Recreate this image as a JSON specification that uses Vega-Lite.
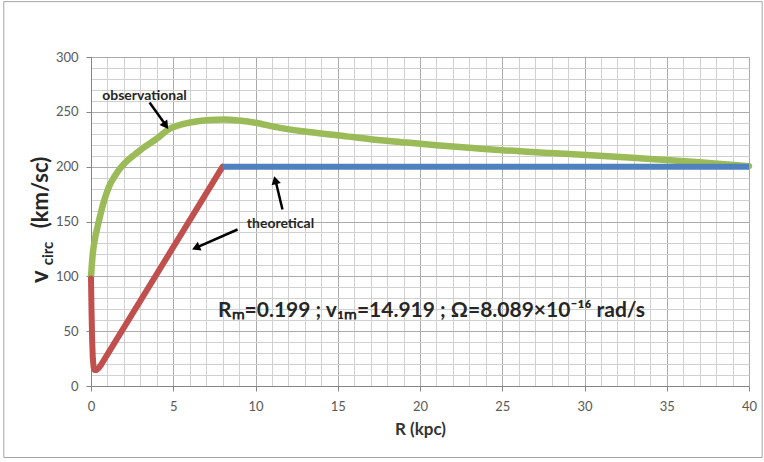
{
  "$schema": "https://vega.github.io/schema/vega-lite/v6.json",
  "width": 658,
  "height": 329,
  "autosize": "none",
  "padding": {"left": 91, "top": 57, "right": 15, "bottom": 76},
  "background": "white",
  "config": {
    "view": {"stroke": null},
    "font": "Lato"
  },
  "encoding": {
    "x": {
      "field": "R", "type": "quantitative",
      "scale": {"domain": [0, 40], "nice": false, "zero": false},
      "axis": {
        "values": [0,1,2,3,4,5,6,7,8,9,10,11,12,13,14,15,16,17,18,19,20,21,22,23,24,25,26,27,28,29,30,31,32,33,34,35,36,37,38,39,40],
        "labelExpr": "datum.value % 5 === 0 ? datum.label : ''",
        "labelOverlap": false,
        "labelBound": false,
        "labelFlush": false,
        "title": "R (kpc)",
        "titleFont": "Lato", "titleFontSize": 17, "titleFontWeight": "bold", "titleColor": "#333333",
        "titlePadding": 8,
        "labelFont": "Lato", "labelFontSize": 13, "labelColor": "#595959", "labelPadding": 9,
        "domainColor": "#868686",
        "tickColor": "#868686", "tickSize": 5,
        "tickOpacity": {"condition": {"test": "datum.value % 5 === 0", "value": 1}, "value": 0},
        "grid": true,
        "gridColor": {"condition": {"test": "datum.value % 5 === 0", "value": "#ababab"}, "value": "#d0d0d0"},
        "gridOpacity": 1
      }
    },
    "y": {
      "field": "v", "type": "quantitative",
      "scale": {"domain": [0, 300], "nice": false},
      "axis": {
        "values": [0,10,20,30,40,50,60,70,80,90,100,110,120,130,140,150,160,170,180,190,200,210,220,230,240,250,260,270,280,290,300],
        "labelExpr": "datum.value % 50 === 0 ? datum.label : ''",
        "labelOverlap": false,
        "labelBound": false,
        "labelFlush": false,
        "title": null,
        "labelFont": "Lato", "labelFontSize": 13, "labelColor": "#595959", "labelPadding": 8,
        "domainColor": "#868686",
        "tickColor": "#868686", "tickSize": 5,
        "tickOpacity": {"condition": {"test": "datum.value % 50 === 0", "value": 1}, "value": 0},
        "grid": true,
        "gridColor": {"condition": {"test": "datum.value % 50 === 0", "value": "#ababab"}, "value": "#d0d0d0"},
        "gridOpacity": 1
      }
    }
  },
  "layer": [
    {
      "data": {"values": [{"R": 0, "v": 0}]},
      "mark": {"type": "rect", "fill": "transparent", "stroke": "#a6a6a6", "strokeWidth": 1},
      "encoding": {
        "x": {"datum": -5.3},
        "x2": {"datum": 40.8},
        "y": {"datum": 350.5},
        "y2": {"datum": -65.2}
      }
    },
    {
      "data": {"values": [
        {"R": 0, "v": 100}, {"R": 0.11, "v": 121}, {"R": 0.25, "v": 135}, {"R": 0.41, "v": 146},
        {"R": 0.6, "v": 158}, {"R": 0.82, "v": 170}, {"R": 1.1, "v": 182}, {"R": 1.43, "v": 191},
        {"R": 1.8, "v": 199}, {"R": 2.24, "v": 206}, {"R": 2.7, "v": 211.5}, {"R": 3.26, "v": 218},
        {"R": 4, "v": 225.5}, {"R": 4.66, "v": 233.5}, {"R": 5.4, "v": 238}, {"R": 6.3, "v": 241},
        {"R": 7.2, "v": 242.5}, {"R": 8.1, "v": 243}, {"R": 9, "v": 242}, {"R": 10, "v": 240},
        {"R": 11.1, "v": 236.5}, {"R": 13, "v": 232}, {"R": 15.1, "v": 228.5}, {"R": 17, "v": 225},
        {"R": 19.2, "v": 222}, {"R": 21, "v": 219.5}, {"R": 23.2, "v": 217}, {"R": 25, "v": 215},
        {"R": 27.9, "v": 212.5}, {"R": 30.9, "v": 210}, {"R": 34, "v": 207}, {"R": 37, "v": 204},
        {"R": 40, "v": 200.5}
      ]},
      "mark": {"type": "line", "color": "#9bbb59", "strokeWidth": 6.5, "interpolate": "monotone", "strokeCap": "round"}
    },
    {
      "data": {"values": [
        {"R": 0, "v": 98}, {"R": 0.03, "v": 70}, {"R": 0.07, "v": 42}, {"R": 0.11, "v": 25},
        {"R": 0.16, "v": 17}, {"R": 0.22, "v": 14.5}, {"R": 0.32, "v": 14.5}, {"R": 0.45, "v": 16},
        {"R": 0.6, "v": 19}, {"R": 8, "v": 200}
      ]},
      "mark": {"type": "line", "color": "#c0504d", "strokeWidth": 6, "strokeCap": "round", "strokeJoin": "round"}
    },
    {
      "data": {"values": [{"R": 8, "v": 200}, {"R": 40, "v": 200}]},
      "mark": {"type": "line", "color": "#4f81bd", "strokeWidth": 6}
    },
    {
      "data": {"values": [
        {"R": 3.56, "v": 258.5, "R2": 4.55, "v2": 237.8},
        {"R": 11.64, "v": 160.9, "R2": 11.22, "v2": 187.2},
        {"R": 8.91, "v": 142.7, "R2": 6.4, "v2": 126.2}
      ]},
      "mark": {"type": "rule", "color": "#000000", "strokeWidth": 2.5},
      "encoding": {
        "x2": {"field": "R2"},
        "y2": {"field": "v2"}
      }
    },
    {
      "data": {"values": [
        {"R": 4.5, "v": 238.5, "ang": 144},
        {"R": 11.22, "v": 186.5, "ang": 346},
        {"R": 6.45, "v": 126.5, "ang": 246.5}
      ]},
      "mark": {"type": "point", "shape": "triangle", "filled": true, "color": "#000000", "size": 90, "opacity": 1},
      "encoding": {
        "angle": {"field": "ang", "type": "quantitative", "scale": null}
      }
    },
    {
      "data": {"values": [
        {"R": 3.25, "v": 264.4, "t": "observational"},
        {"R": 11.52, "v": 147.3, "t": "theoretical"}
      ]},
      "mark": {"type": "text", "font": "Lato", "fontSize": 14, "fontWeight": "bold", "color": "#262626", "align": "center", "baseline": "middle"},
      "encoding": {
        "text": {"field": "t"}
      }
    },
    {
      "data": {"values": [
        {"R": 20.7, "v": 68.2, "t": "Rₘ=0.199 ;  v₁ₘ=14.919 ; Ω=8.089×10⁻¹⁶ rad/s"}
      ]},
      "mark": {"type": "text", "font": "Lato", "fontSize": 21, "fontWeight": "bold", "color": "#262626", "align": "center", "baseline": "middle"},
      "encoding": {
        "text": {"field": "t"}
      }
    },
    {
      "data": {"values": [
        {"R": -3.04, "v": 99.8, "t": "v", "s": 24},
        {"R": -2.62, "v": 120.8, "t": "circ", "s": 15},
        {"R": -3.04, "v": 176.4, "t": "(km/sc)", "s": 22}
      ]},
      "mark": {"type": "text", "font": "Lato", "fontWeight": "bold", "color": "#262626", "align": "center", "baseline": "middle", "angle": 270},
      "encoding": {
        "text": {"field": "t"},
        "size": {"field": "s", "type": "quantitative", "scale": null}
      }
    }
  ]
}
